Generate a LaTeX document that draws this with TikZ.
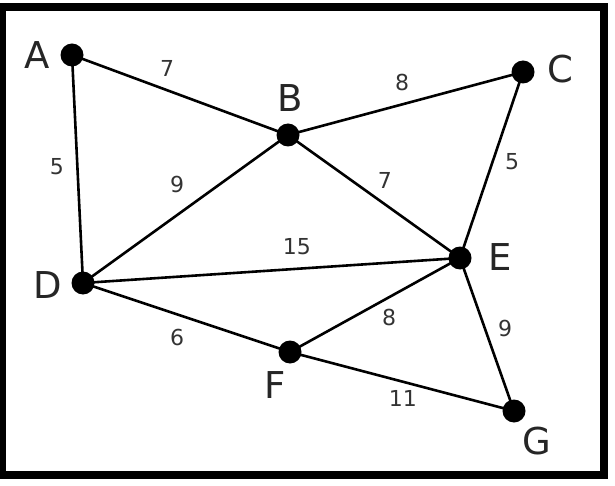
\documentclass[tikz,border=0pt]{standalone}
\usepackage{fontspec}
\setmainfont{DejaVu Sans}
\usepackage{tikz}
\usetikzlibrary{positioning}

\begin{document}
\begin{tikzpicture}[
        x=1pt, y=-1pt,
        vertex/.style={circle, fill=black, inner sep=0pt, minimum size=23pt},
        vname/.style={inner sep=0pt, font=\fontsize{37}{37}\selectfont, text=black!85},
        weight/.style={inner sep=0pt, font=\fontsize{22}{22}\selectfont, text=black!80},
        edge/.style={line width=2.6pt}
    ]
    \useasboundingbox (0,0) rectangle (615,486);
    \draw[line width=7.5pt] (2,7) rectangle (604,475);

    % Vertices
    \node[vertex] (a) at (72,55) {};
    \node[vertex] (b) at (288,135) {};
    \node[vertex] (c) at (523,72) {};
    \node[vertex] (d) at (83,283) {};
    \node[vertex] (e) at (460,258) {};
    \node[vertex] (f) at (290,352) {};
    \node[vertex] (g) at (514,411) {};

    % Vertex names
    \node[vname] (na) at (37,55) {A};
    \node[vname] (nb) at (290,98) {B};
    \node[vname] (nc) at (560,69) {C};
    \node[vname] (nd) at (48,285) {D};
    \node[vname] (ne) at (500,257) {E};
    \node[vname] (nf) at (275,385) {F};
    \node[vname] (ng) at (537,441) {G};

    % Edges
    \draw[edge] (a.center) -- node[weight, pos=0.41, xshift=6.5pt, yshift=19.6pt] {7} (b.center);
    \draw[edge] (b.center) -- node[weight, pos=0.509, xshift=-5.6pt, yshift=20.9pt] {8} (c.center);
    \draw[edge] (a.center) -- node[weight, pos=0.49, xshift=-20.4pt, yshift=0pt] {5} (d.center);
    \draw[edge] (b.center) -- node[weight, pos=0.472, xshift=-14.2pt, yshift=19.9pt] {9} (d.center);
    \draw[edge] (b.center) -- node[weight, pos=0.497, xshift=11.5pt, yshift=16.1pt] {7} (e.center);
    \draw[edge] (c.center) -- node[weight, pos=0.452, xshift=17.5pt, yshift=-5.9pt] {5} (e.center);
    \draw[edge] (d.center) -- node[weight, pos=0.571, xshift=-1.4pt, yshift=21.7pt] {15} (e.center);
    \draw[edge] (d.center) -- node[weight, pos=0.487, xshift=-6.8pt, yshift=-20.4pt] {6} (f.center);
    \draw[edge] (f.center) -- node[weight, pos=0.533, xshift=8.4pt, yshift=-15.1pt] {8} (e.center);
    \draw[edge] (e.center) -- node[weight, pos=0.499, xshift=18.1pt, yshift=6.3pt] {9} (g.center);
    \draw[edge] (f.center) -- node[weight, pos=0.522, xshift=-4pt, yshift=-15.2pt] {11} (g.center);

\end{tikzpicture}
\end{document}
